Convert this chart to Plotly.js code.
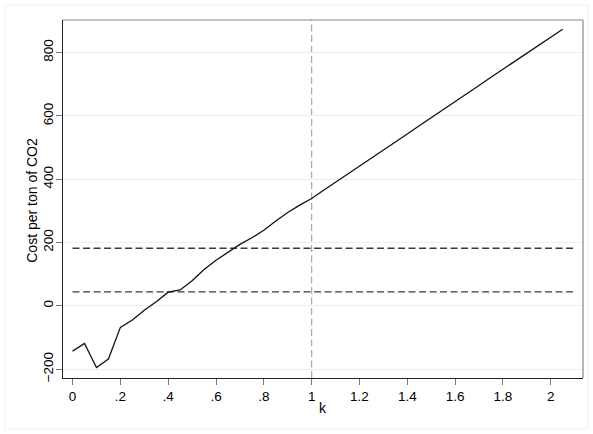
<!DOCTYPE html>
<html>
<head>
<meta charset="utf-8">
<script src="https://cdn.plot.ly/plotly-3.0.1.min.js"></script>
<style>html,body{margin:0;padding:0;background:#fff;}#chart{width:593px;height:434px;}</style>
</head>
<body>
<div id="chart"></div>
<script>
// Data
const k = [0, 0.05, 0.1, 0.15, 0.2, 0.25, 0.3, 0.35, 0.4, 0.45, 0.5, 0.55, 0.6, 0.65, 0.7, 0.75, 0.8, 0.85, 0.9, 0.95, 1,
           1.05, 1.1, 1.15, 1.2, 1.25, 1.3, 1.35, 1.4, 1.45, 1.5, 1.55, 1.6, 1.65, 1.7, 1.75, 1.8, 1.85, 1.9, 1.95, 2, 2.05];
const cost = [-143, -119, -195, -168, -68, -45, -14, 13, 43, 50, 79, 115, 144, 169, 194, 215, 239, 268, 295, 318, 339,
              365, 390, 416, 441, 467, 492, 518, 543, 569, 594, 620, 645, 671, 696, 722, 747, 773, 798, 824, 849, 874];
const refX = [0, 2.1];
const refHigh = [182, 182];
const refLow = [44, 44];
const vlineK = 1;
const xTickVals = [0, 0.2, 0.4, 0.6, 0.8, 1, 1.2, 1.4, 1.6, 1.8, 2];
const xTickText = ["0", ".2", ".4", ".6", ".8", "1", "1.2", "1.4", "1.6", "1.8", "2"];
const yTickVals = [-200, 0, 200, 400, 600, 800];
const xTitle = "k";
const yTitle = "Cost per ton of CO2";

const font = "Liberation Sans, Arial, Helvetica, sans-serif";

const traces = [
  {x: refX, y: refHigh, mode: "lines", line: {color: "#3a3a3a", width: 1.4, dash: "7px,3.5px"}, hoverinfo: "skip"},
  {x: refX, y: refLow, mode: "lines", line: {color: "#3a3a3a", width: 1.4, dash: "7px,3.5px"}, hoverinfo: "skip"},
  {x: k, y: cost, mode: "lines", line: {color: "#111", width: 1.3}}
];

const layout = {
  width: 593, height: 434,
  margin: {l: 63, r: 10, t: 20, b: 56},
  paper_bgcolor: "#fff", plot_bgcolor: "#fff",
  showlegend: false,
  font: {family: font, size: 14, color: "#000"},
  xaxis: {
    range: [-0.04, 2.135], tickvals: xTickVals, ticktext: xTickText,
    ticks: "outside", ticklen: 6, tickcolor: "#777", tickwidth: 1,
    showline: true, linecolor: "#222", linewidth: 1, showgrid: false, zeroline: false,
    tickfont: {size: 13.5, family: font}
  },
  yaxis: {
    range: [-228, 903], tickvals: yTickVals, tickangle: -90,
    ticks: "outside", ticklen: 6, tickcolor: "#777", tickwidth: 1,
    showline: true, linecolor: "#222", linewidth: 1,
    showgrid: true, gridcolor: "#e9efef", gridwidth: 1, zeroline: false,
    tickfont: {size: 13.5, family: font}, ticklabelstandoff: -2
  },
  annotations: [
    {text: yTitle, xref: "paper", yref: "paper", x: -0.0602, y: 0.497, xanchor: "center", yanchor: "middle",
     textangle: -90, showarrow: false, font: {size: 14, family: font, color: "#000"}},
    {text: xTitle, xref: "x", yref: "paper", x: 1.047, y: -0.0838, xanchor: "center", yanchor: "middle",
     showarrow: false, font: {size: 14, family: font, color: "#000"}}
  ],
  shapes: [
    {type: "line", xref: "x", yref: "paper", x0: vlineK, x1: vlineK, y0: 0, y1: 1,
     line: {color: "#a8a8a8", width: 1.2, dash: "7px,3.5px"}, layer: "below"},
    {type: "line", xref: "paper", yref: "paper", x0: 0, x1: 1, y0: 1, y1: 1, line: {color: "#888", width: 1.2}},
    {type: "line", xref: "paper", yref: "paper", x0: 1, x1: 1, y0: 0, y1: 1, line: {color: "#888", width: 1.2}},
    {type: "rect", xref: "paper", yref: "paper", x0: -0.1115, x1: 1.0096, y0: -0.1425, y1: 1.0419,
     line: {color: "#edf2f2", width: 1}, layer: "below"}
  ]
};

Plotly.newPlot("chart", traces, layout, {displayModeBar: false, staticPlot: true});
</script>
</body>
</html>
